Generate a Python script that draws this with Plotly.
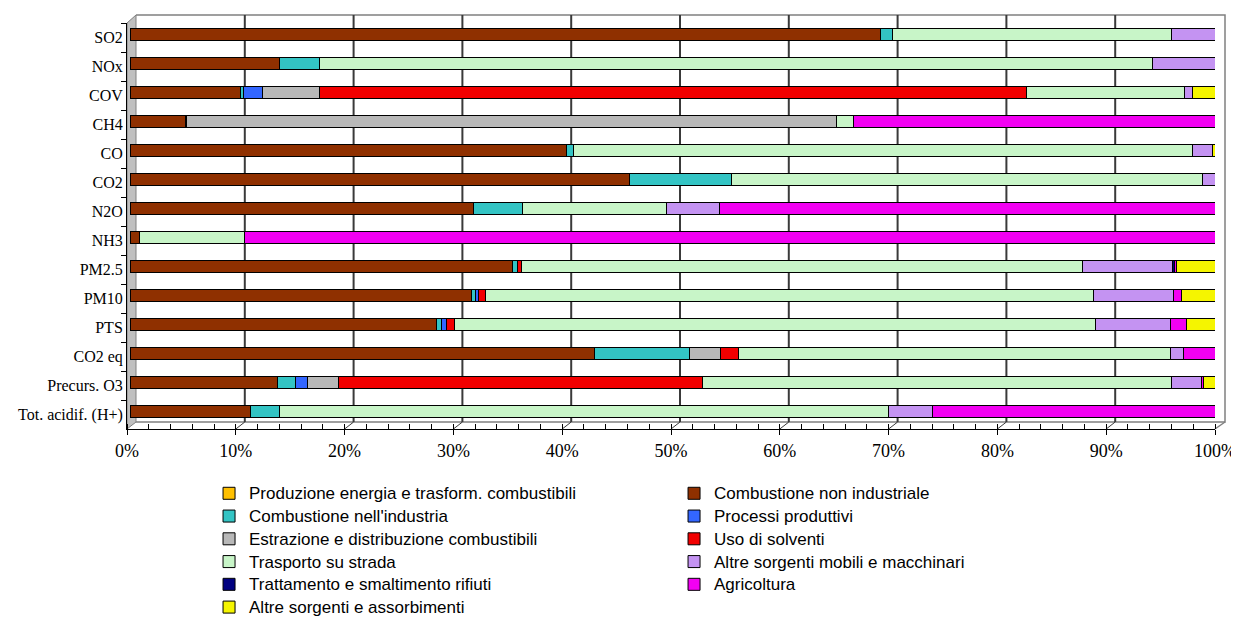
import plotly.graph_objects as go

# ---------------- data (percent share of each source) ----------------
categories = ["SO2", "NOx", "COV", "CH4", "CO", "CO2", "N2O", "NH3",
              "PM2.5", "PM10", "PTS", "CO2 eq", "Precurs. O3", "Tot. acidif. (H+)"]

produzione_energia = [0, 0, 0, 0, 0, 0, 0, 0, 0, 0, 0, 0, 0, 0]
combustione_non_ind = [69.0, 13.7, 10.2, 5.1, 40.1, 45.9, 31.6, 0.85, 35.2, 31.4, 28.2, 42.7, 13.6, 11.1]
combustione_ind = [1.1, 3.7, 0.2, 0.1, 0.7, 9.4, 4.5, 0, 0.4, 0.4, 0.4, 8.7, 1.6, 2.6]
processi_produttivi = [0, 0, 1.8, 0, 0, 0, 0, 0, 0, 0.25, 0.5, 0, 1.1, 0]
estrazione_distrib = [0, 0, 5.2, 59.7, 0, 0, 0, 0, 0, 0, 0, 2.9, 2.9, 0]
uso_solventi = [0, 0, 65.0, 0, 0, 0, 0, 0, 0.4, 0.65, 0.7, 1.6, 33.4, 0]
trasporto_strada = [25.6, 76.6, 14.5, 1.6, 56.9, 43.3, 13.2, 9.65, 51.5, 55.9, 58.9, 39.7, 43.1, 56.05]
altre_mobili = [4.2, 5.8, 0.8, 0, 1.75, 1.4, 4.9, 0, 8.3, 7.3, 6.9, 1.2, 2.8, 4.05]
trattamento_rifiuti = [0.1, 0, 0, 0, 0, 0, 0, 0, 0.2, 0, 0, 0, 0, 0]
agricoltura = [0, 0.2, 0, 33.5, 0, 0, 45.8, 89.5, 0.2, 0.7, 1.5, 3.2, 0.2, 26.2]
altre_sorgenti = [0, 0, 2.3, 0, 0.55, 0, 0, 0, 3.8, 3.4, 2.9, 0, 1.3, 0]

series_names = [
    "Produzione energia e trasform. combustibili",
    "Combustione non industriale",
    "Combustione nell'industria",
    "Processi produttivi",
    "Estrazione e distribuzione combustibili",
    "Uso di solventi",
    "Trasporto su strada",
    "Altre sorgenti mobili e macchinari",
    "Trattamento e smaltimento rifiuti",
    "Agricoltura",
    "Altre sorgenti e assorbimenti",
]
series_values = [produzione_energia, combustione_non_ind, combustione_ind, processi_produttivi,
                 estrazione_distrib, uso_solventi, trasporto_strada, altre_mobili,
                 trattamento_rifiuti, agricoltura, altre_sorgenti]
series_colors = ["#FFC000", "#8F3000", "#33C4C4", "#3366FF", "#B8B8B8", "#F20000",
                 "#C8F5C8", "#C493F2", "#000080", "#F200F2", "#F5F500"]

x_tick_values = [0, 10, 20, 30, 40, 50, 60, 70, 80, 90, 100]

# ---------------- figure ----------------
fig = go.Figure()

# invisible helper so the front category axis knows its categories
fig.add_trace(go.Scatter(x=[None] * len(categories), y=categories, mode="none",
                         showlegend=False, hoverinfo="skip"))

for name, vals, col in zip(series_names, series_values, series_colors):
    fig.add_trace(go.Bar(
        name=f'<span style="font-size:17px">{name}</span>',
        y=categories,
        x=[v if v else None for v in vals],
        orientation="h",
        marker=dict(color=col, line=dict(color="#000000", width=1)),
        xaxis="x2", yaxis="y2",
        hoverinfo="skip",
    ))

serif = "Liberation Serif, Times New Roman, serif"
sans = "Liberation Sans, Arial, sans-serif"

# decorative pseudo-3D walls and back-plane grid (pixel offsets from the front plane)
shapes = []
GRAY = "#808080"
shapes.append(dict(type="path", xref="paper", yref="paper", xsizemode="pixel", ysizemode="pixel",
                   xanchor=0, yanchor=0, path="M0,0 L9,7 L9,414 L0,406 Z",
                   fillcolor="#C0C0C0", line=dict(color=GRAY, width=1), layer="below"))
shapes.append(dict(type="path", xref="paper", yref="paper", xsizemode="pixel", ysizemode="pixel",
                   xanchor=0, yanchor=0, path="M9,7 L1098,7 L1098,414 L9,414",
                   line=dict(color=GRAY, width=1.5), layer="below"))
shapes.append(dict(type="line", xref="paper", yref="paper", xsizemode="pixel", ysizemode="pixel",
                   xanchor=1, yanchor=0, x0=0, y0=0, x1=10, y1=7,
                   line=dict(color=GRAY, width=1.5), layer="below"))
for v in x_tick_values[1:-1]:
    shapes.append(dict(type="line", xref="x", yref="paper", xsizemode="pixel", ysizemode="pixel",
                       xanchor=v, yanchor=0, x0=9, y0=7, x1=9, y1=414,
                       line=dict(color="#3A3A3A", width=2), layer="below"))
    shapes.append(dict(type="line", xref="x", yref="paper", xsizemode="pixel", ysizemode="pixel",
                       xanchor=v, yanchor=0, x0=0, y0=0, x1=9, y1=7,
                       line=dict(color="#3A3A3A", width=1), layer="below"))

# the page body adds an 8px offset, so the figure is 8px smaller on each side
fig.update_layout(
    width=1231, height=613,
    margin=dict(l=119, r=24, t=15, b=192, autoexpand=False),
    paper_bgcolor="white", plot_bgcolor="white",
    barmode="stack", bargap=0.585,
    shapes=shapes,
    xaxis=dict(range=[0, 100], tickvals=x_tick_values,
               ticktext=[f"{v}%" for v in x_tick_values],
               showgrid=False, zeroline=False, showline=True, linecolor="black", linewidth=1,
               ticks="outside", ticklen=5, tickcolor="black",
               minor=dict(ticks="inside", dtick=2, ticklen=5, tickcolor="black", showgrid=False),
               tickfont=dict(family=serif, size=18, color="black")),
    yaxis=dict(type="category", categoryorder="array", categoryarray=categories,
               range=[13.5, -0.5], showgrid=False, zeroline=False,
               showline=True, linecolor="black", linewidth=1,
               ticks="outside", ticklen=5, tickcolor="black", tickson="boundaries",
               tickfont=dict(family=serif, size=16, color="black")),
    xaxis2=dict(overlaying="x", anchor="y", range=[-0.276, 99.724], visible=False),
    yaxis2=dict(overlaying="y", anchor="x", type="category", categoryorder="array",
                categoryarray=categories, range=[13.62, -0.38], visible=False),
    legend=dict(orientation="h", x=0.0754, y=-0.118, xanchor="left", yanchor="top",
                entrywidth=420, traceorder="normal",
                font=dict(family=sans, size=15.2, color="black"),
                bgcolor="rgba(0,0,0,0)"),
    showlegend=True,
)

fig.write_html("out.html")
